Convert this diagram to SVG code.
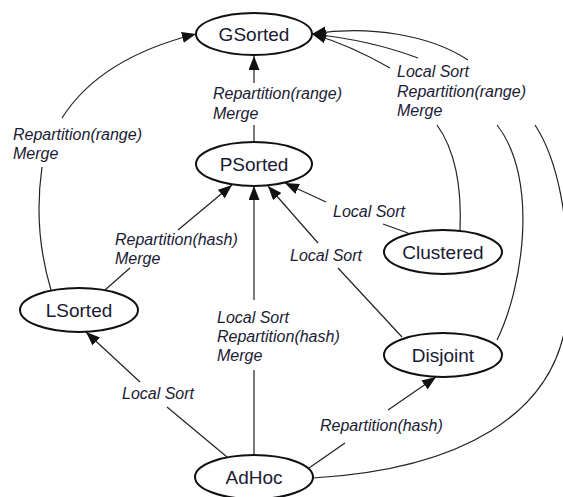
<svg xmlns="http://www.w3.org/2000/svg" width="563" height="497" viewBox="0 0 563 497">
<style>
.node ellipse{fill:#fff;stroke:#111;stroke-width:2}
.node text{font-family:"Liberation Sans",Arial,sans-serif;font-size:19px;fill:#1a1a33;text-anchor:middle}
.edge{fill:none;stroke:#222;stroke-width:1.2}
.lbl{font-family:"Liberation Sans",Arial,sans-serif;font-size:16px;font-style:italic;fill:#1a1a33}
</style>
<defs>
<marker id="ah" markerUnits="userSpaceOnUse" markerWidth="15" markerHeight="11" refX="14" refY="5.5" orient="auto">
<path d="M0,0 L14,5.5 L0,11 z" fill="#111"/>
</marker>
</defs>
<g id="connectors">
<path class="edge" d="M254,143 L254,125"/>
<path class="edge" d="M254,83 L254,56" marker-end="url(#ah)"/>
<path class="edge" d="M51,290 Q33,230 42,167"/>
<path class="edge" d="M62,118 Q100,58 196,34" marker-end="url(#ah)"/>
<path class="edge" d="M105,290 L130,268"/>
<path class="edge" d="M178,230 L232,185" marker-end="url(#ah)"/>
<path class="edge" d="M227,457 L167,407"/>
<path class="edge" d="M140,382 L86,332" marker-end="url(#ah)"/>
<path class="edge" d="M254,455 L254,370"/>
<path class="edge" d="M254,300 L254,186" marker-end="url(#ah)"/>
<path class="edge" d="M402,337 L338,268"/>
<path class="edge" d="M318,243 L268,186" marker-end="url(#ah)"/>
<path class="edge" d="M408,233 L383,224"/>
<path class="edge" d="M326,202 L285,183" marker-end="url(#ah)"/>
<path class="edge" d="M309,468 L345,443"/>
<path class="edge" d="M388,410 L436,377" marker-end="url(#ah)"/>
<path class="edge" d="M460,231 C462,185 455,150 437,125"/>
<path class="edge" d="M390,68 Q350,45 312,34" marker-end="url(#ah)"/>
<path class="edge" d="M497,340 C522,290 540,180 497,125"/>
<path class="edge" d="M418,58 Q370,40 312,34" marker-end="url(#ah)"/>
<path class="edge" d="M313,478 C450,470 565,420 568,300 C570,220 558,160 535,125"/>
<path class="edge" d="M468,60 C430,35 370,25 312,34" marker-end="url(#ah)"/>
</g>
<g id="labels">
<text class="lbl" x="213" y="98.5">Repartition(range)</text>
<text class="lbl" x="213" y="118.5">Merge</text>
<text class="lbl" x="13" y="139.5">Repartition(range)</text>
<text class="lbl" x="13" y="158.5">Merge</text>
<text class="lbl" x="397" y="76.5">Local Sort</text>
<text class="lbl" x="397" y="96.5">Repartition(range)</text>
<text class="lbl" x="397" y="115.5">Merge</text>
<text class="lbl" x="115" y="245">Repartition(hash)</text>
<text class="lbl" x="115" y="264">Merge</text>
<text class="lbl" x="333" y="217">Local Sort</text>
<text class="lbl" x="290" y="261">Local Sort</text>
<text class="lbl" x="217" y="323">Local Sort</text>
<text class="lbl" x="217" y="342">Repartition(hash)</text>
<text class="lbl" x="217" y="361">Merge</text>
<text class="lbl" x="122" y="399">Local Sort</text>
<text class="lbl" x="320" y="431">Repartition(hash)</text>
</g>
<g id="GSorted" class="node"><ellipse cx="254" cy="34" rx="58" ry="21"/><text x="254" y="41">GSorted</text></g>
<g id="PSorted" class="node"><ellipse cx="254" cy="164" rx="58" ry="22"/><text x="254" y="171">PSorted</text></g>
<g id="Clustered" class="node"><ellipse cx="443" cy="252" rx="59" ry="22"/><text x="443" y="259">Clustered</text></g>
<g id="LSorted" class="node"><ellipse cx="79" cy="310" rx="59" ry="22"/><text x="79" y="317">LSorted</text></g>
<g id="Disjoint" class="node"><ellipse cx="443" cy="355" rx="59" ry="22"/><text x="443" y="362">Disjoint</text></g>
<g id="AdHoc" class="node"><ellipse cx="254" cy="477" rx="59" ry="22"/><text x="254" y="484">AdHoc</text></g>
</svg>
